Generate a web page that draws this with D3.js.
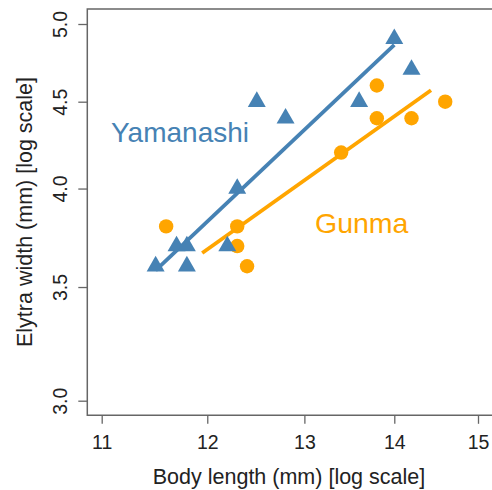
<!DOCTYPE html>
<html>
<head>
<meta charset="utf-8">
<script src="https://cdn.jsdelivr.net/npm/d3@7"></script>
<style>
  body { margin: 0; background: #fff; }
  svg { display: block; font-family: "Liberation Sans", Arial, sans-serif; }
</style>
</head>
<body>
<svg id="chart" width="492" height="490"></svg>
<script>
// Yamanashi (triangles)
const yamaLength = [11.5, 11.7, 11.8, 11.8, 12.2, 12.3, 12.5, 12.8, 13.6, 14.0, 14.2];
const yamaWidth  = [3.6, 3.7, 3.7, 3.6, 3.7, 4.0, 4.5, 4.4, 4.5, 4.9, 4.7];
// Gunma (circles)
const gunmaLength = [11.6, 12.3, 12.3, 12.4, 13.4, 13.8, 13.8, 14.2, 14.6];
const gunmaWidth  = [3.8, 3.8, 3.7, 3.6, 4.2, 4.6, 4.4, 4.4, 4.5];
// fitted lines (end points)
const yamaFitLength = [11.5, 14.0];
const yamaFitWidth  = [3.58, 4.86];
const gunmaFitLength = [11.95, 14.43];
const gunmaFitWidth  = [3.665, 4.57];

const xTicks = [11, 12, 13, 14, 15];
const yTicks = [3.0, 3.5, 4.0, 4.5, 5.0];

const BLUE = "#4682b4", ORANGE = "#ffa500", AXIS = "#666666";

const svg = d3.select("#chart");
const box = { left: 87.3, right: 494, top: 9, bottom: 415.3 };

const x = d3.scaleLog().domain([11, 15]).range([101.7, 478]);
const y = d3.scaleLog().domain([3, 5]).range([400.7, 24]);

// box (right edge falls off the picture)
svg.append("path")
    .attr("d", `M${box.right},${box.top}H${box.left}V${box.bottom}H${box.right}`)
    .attr("fill", "none")
    .attr("stroke", AXIS)
    .attr("stroke-width", 1.5);

// x axis
const xAxis = svg.append("g")
    .attr("transform", `translate(0,${box.bottom})`)
    .call(d3.axisBottom(x).tickValues(xTicks).tickFormat(d3.format("d")).tickSize(8.5).tickSizeOuter(0).tickPadding(11));
xAxis.select(".domain").remove();
xAxis.selectAll("line").attr("stroke", AXIS).attr("stroke-width", 1.3);
xAxis.selectAll("text").attr("font-size", 19.5).attr("fill", "#222").attr("font-family", null);

// y axis, labels rotated like base R
const yAxis = svg.append("g")
    .attr("transform", `translate(${box.left},0)`)
    .call(d3.axisLeft(y).tickValues(yTicks).tickFormat(d3.format(".1f")).tickSize(9).tickSizeOuter(0));
yAxis.select(".domain").remove();
yAxis.selectAll("line").attr("stroke", AXIS).attr("stroke-width", 1.3);
yAxis.selectAll("text")
    .attr("font-size", 19.5).attr("fill", "#222").attr("font-family", null)
    .attr("transform", "rotate(-90)")
    .attr("text-anchor", "middle")
    .attr("x", 0).attr("y", -20.8).attr("dy", null);

// axis titles
svg.append("text")
    .attr("x", 289).attr("y", 483.5)
    .attr("text-anchor", "middle")
    .attr("font-size", 21.5).attr("fill", "#222")
    .text("Body length (mm) [log scale]");
svg.append("text")
    .attr("transform", `translate(32,212) rotate(-90)`)
    .attr("text-anchor", "middle")
    .attr("font-size", 21.5).attr("fill", "#222")
    .text("Elytra width (mm) [log scale]");

// fitted lines
const line = d3.line().x(d => x(d[0])).y(d => y(d[1]));
svg.append("path")
    .datum(d3.zip(yamaFitLength, yamaFitWidth))
    .attr("d", line).attr("fill", "none").attr("stroke", BLUE).attr("stroke-width", 3.8);
svg.append("path")
    .datum(d3.zip(gunmaFitLength, gunmaFitWidth))
    .attr("d", line).attr("fill", "none").attr("stroke", ORANGE).attr("stroke-width", 3.8);

// points
svg.append("g").selectAll("circle")
    .data(d3.zip(gunmaLength, gunmaWidth))
    .enter()
    .append("circle")
    .attr("cx", d => x(d[0]))
    .attr("cy", d => y(d[1]))
    .attr("r", 7.2)
    .attr("fill", ORANGE);

const tri = d3.symbol().type(d3.symbolTriangle).size(140);
svg.append("g").selectAll("path")
    .data(d3.zip(yamaLength, yamaWidth))
    .enter()
    .append("path")
    .attr("d", tri)
    .attr("transform", d => `translate(${x(d[0])},${y(d[1])})`)
    .attr("fill", BLUE);

// group labels
svg.append("text")
    .attr("x", 111).attr("y", 142)
    .attr("font-size", 28).attr("fill", BLUE)
    .text("Yamanashi");
svg.append("text")
    .attr("x", 315).attr("y", 233)
    .attr("font-size", 28.5).attr("fill", ORANGE)
    .text("Gunma");
</script>
</body>
</html>
